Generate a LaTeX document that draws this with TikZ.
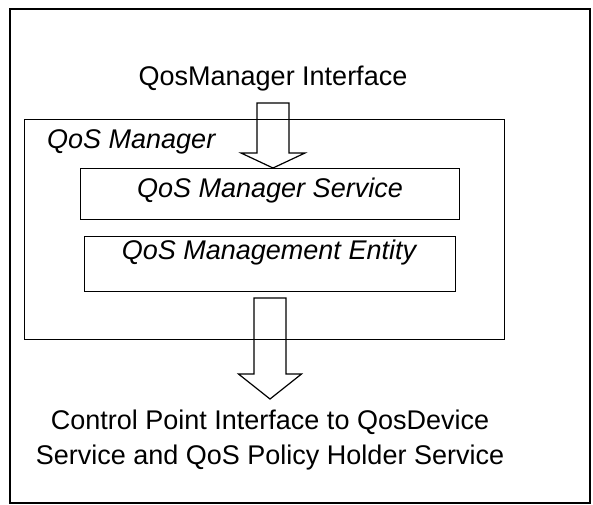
\documentclass[tikz,border=0pt]{standalone}
\usepackage{fontspec}
\setmainfont{Liberation Sans}
\begin{document}
\begin{tikzpicture}[x=1pt,y=-1pt,
  frame/.style={draw, line width=1.6pt, inner sep=0pt, anchor=north west},
  box/.style={draw, line width=1.2pt, inner sep=0pt, anchor=north west},
  lbl/.style={font=\fontsize{27}{35}\selectfont, inner sep=0pt},
  ilbl/.style={font=\fontsize{27}{35}\selectfont\itshape, inner sep=0pt},
  fat/.style={draw, line width=1.2pt, line join=miter}]
\useasboundingbox (0,0) rectangle (593,504);
\node[frame, minimum width=580pt, minimum height=494pt] (outer) at (9,8) {};
\node[box, minimum width=480pt, minimum height=220pt] (mgr) at (24,119) {};
\node[box, minimum width=379pt, minimum height=51pt] (svc) at (80,168) {};
\node[box, minimum width=371pt, minimum height=55pt] (ent) at (84,236) {};
\node[lbl, anchor=base] (itf) at (273,85) {QosManager Interface};
\node[ilbl, anchor=base west] (mgrl) at (47,148) {QoS Manager};
\node[ilbl, anchor=base] (svcl) at (270,197) {QoS Manager Service};
\node[ilbl, anchor=base] (entl) at (269,259) {QoS Management Entity};
\node[lbl, anchor=base, align=center] (cpi) at (270,464) {Control Point Interface to QosDevice\\Service and QoS Policy Holder Service};
\coordinate (t1) at (273,168);
\coordinate (t2) at (270,399);
\draw[fat] (t1) -- ++(-32,-15) -- ++(16,0) -- ++(0,-50) -- ++(32,0) -- ++(0,50) -- ++(16,0) -- cycle;
\draw[fat] (t2) -- ++(-31.5,-25) -- ++(15.5,0) -- ++(0,-76) -- ++(32,0) -- ++(0,76) -- ++(15.5,0) -- cycle;
\end{tikzpicture}
\end{document}
